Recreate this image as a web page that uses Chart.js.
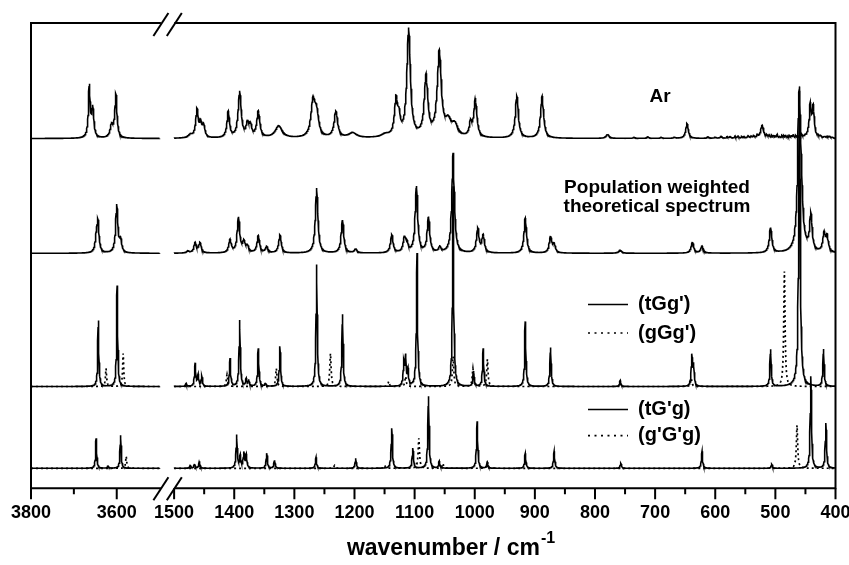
<!DOCTYPE html>
<html>
<head>
<meta charset="utf-8">
<script src="https://cdn.jsdelivr.net/npm/chart.js@4.4.1/dist/chart.umd.min.js"></script>
<style>
  html, body { margin: 0; padding: 0; background: #fff; }
  canvas { display: block; }
</style>
</head>
<body>
<canvas id="chart" width="849" height="565"></canvas>
<script>
// Eje x partido: 3800-3500 y 1500-400 cm-1
const SEGMENTS = [[3800, 3500], [1500, 400]];
const MAJOR_TICKS = [3800, 3600, 1500, 1400, 1300, 1200, 1100, 1000, 900, 800, 700, 600, 500, 400];
const MINOR_TICKS = [3700, 1450, 1350, 1250, 1150, 1050, 950, 850, 750, 650, 550, 450];

const SERIES_LABELS = ['Ar', 'Population weighted theoretical spectrum', "(tGg')", "(gGg')", "(tG'g)", "(g'G'g)"];
const SERIES_OFFSETS = [349.8, 235, 101.8, 101.8, 20, 20];
const SERIES_HWHM = [3.5, 2.5, 1.2, 1.3, 1.2, 1.3];

// picos: [posicion cm-1, altura, semi-anchura opcional]
const AR_PEAKS = [
  [3664, 51, 2.5], [3656, 29, 3], [3612, 12, 4], [3602, 43, 3],
  [1473, 3, 4], [1462, 28, 2.5], [1456, 13, 2], [1451, 12, 2.5],
  [1410, 26, 2.5], [1391, 46, 3], [1378, 13, 2.5], [1373, 11, 2.5], [1360, 26, 3],
  [1326, 12, 7], [1269, 35, 4], [1263, 22, 4], [1231, 26, 3.5], [1203, 5, 8], [1149, 3, 8],
  [1131, 36, 3], [1126, 16, 2.5], [1110, 108, 3.5], [1081, 60, 3.5], [1059, 84, 4], [1044, 14, 6], [1033, 11, 6],
  [1007, 13, 2.5], [999, 38, 3], [930, 42, 3], [888, 42, 3], [779, 4, 3],
  [735, 1, 2], [712, 1.5, 2], [690, 1, 2], [668, 1, 2],
  [647, 15, 2.5], [612, 1.5, 2], [600, 1, 2], [590, 2, 2], [580, 1.5, 1.2], [575, 1.5, 2], [567, 2, 1],
  [562, 2, 1.5], [556, 1.5, 1], [552, 1.5, 1.5], [545, 2.5, 1.5], [540, 2, 1], [536, 2, 1.5],
  [530, 3, 1], [522, 13, 3], [514, 2, 1], [510, 3, 1.2], [506, 2, 0.8], [503, 2.5, 1], [500, 2, 0.8],
  [497, 3.5, 1], [493, 2, 0.8], [489, 2.5, 1], [486, 2, 0.8], [483, 3, 1], [479, 2, 0.8], [476, 2, 1],
  [473, 2.5, 0.8], [470, 3.5, 1], [466, 2, 0.8], [463, 2.5, 1], [459, 2, 0.8], [456, 3, 1],
  [453, 1.5, 0.8], [450, 2, 1], [446, 2, 1], [442, 32, 2], [437, 30, 2], [429, 1.5, 1],
  [425, 2, 1.5], [418, 1.5, 1.5], [414, 1.5, 1], [410, 2, 1.5], [405, 1, 1]
];
const POP_PEAKS = [
  [3648, 10, 3], [3644, 31, 3], [3600, 48, 3], [3591, 12, 3],
  [1477, 2], [1465, 10], [1457, 10], [1407, 13], [1393, 35], [1384, 10], [1378, 6], [1360, 17],
  [1346, 6], [1324, 18], [1263, 65], [1220, 33], [1198, 4], [1138, 18], [1117, 14], [1113, 8],
  [1097, 66], [1077, 35], [1058, 5], [1036, 100], [995, 24], [986, 17], [916, 35], [874, 16],
  [868, 8], [758, 3, 3], [638, 11], [622, 7], [508, 25], [461, 120, 2.5], [458, 70, 3.5],
  [441, 36], [419, 18], [414, 15]
];
const TGG_PEAKS = [
  [3643, 66, 1.5], [3599, 101, 1.5],
  [1480, 3], [1465, 23], [1460, 11], [1454, 10], [1407, 28], [1391, 66], [1380, 7], [1376, 6],
  [1360, 38], [1348, 3], [1324, 40], [1263, 122], [1220, 72], [1118, 22], [1115, 28], [1111, 15],
  [1096, 133], [1036, 200], [1002, 15], [986, 38], [916, 65], [874, 39], [758, 6], [639, 30],
  [636, 20], [508, 37], [460, 300, 1.5], [420, 37]
];
const GGG_PEAKS = [
  [3625, 18, 1.5], [3585, 33, 1.5],
  [1412, 12], [1330, 18], [1240, 33], [1143, 5], [1115, 10], [1036, 30], [1003, 18], [979, 27],
  [640, 8], [485, 115]
];
const TGPG_PEAKS = [
  [3648, 30, 1.5], [3620, 2, 2], [3591, 33, 1.5],
  [1473, 3], [1466, 4], [1458, 7], [1396, 33], [1390, 12], [1384, 15], [1380, 13], [1346, 15],
  [1333, 8], [1264, 11], [1198, 10], [1138, 40], [1103, 20], [1077, 72], [1059, 7], [996, 47],
  [979, 6], [916, 15], [868, 17], [757, 5], [622, 17], [506, 4], [441, 92], [416, 45]
];
const GPGPG_PEAKS = [
  [3578, 12, 1.5],
  [1233, 3], [1150, 3], [1093, 30], [1053, 5], [979, 6], [464, 43]
];
const SERIES_PEAKS = [AR_PEAKS, POP_PEAKS, TGG_PEAKS, GGG_PEAKS, TGPG_PEAKS, GPGPG_PEAKS];

// escala del eje: unidades por cm-1 en cada tramo
const LEFT_SCALE = 0.4285;
const RIGHT_SCALE = 0.601;
const GAP = 14.5;

function toU(w) {
  if (w >= 2500) return (SEGMENTS[0][0] - w) * LEFT_SCALE;
  return (SEGMENTS[0][0] - SEGMENTS[0][1]) * LEFT_SCALE + GAP + (SEGMENTS[1][0] - w) * RIGHT_SCALE;
}

function intensity(peaks, hwhm, w) {
  let s = 0;
  peaks.forEach(p => {
    const g = p[2] || hwhm;
    const d = (w - p[0]) / g;
    s += p[1] / (1 + d * d);
  });
  return s;
}

function buildSeries(i) {
  const peaks = SERIES_PEAKS[i];
  const pts = [];
  SEGMENTS.forEach((seg, si) => {
    const [hi, lo] = seg;
    const ws = [];
    for (let w = hi; w >= lo - 1e-9; w -= 0.5) ws.push(w);
    peaks.forEach(p => { if (p[0] <= hi && p[0] >= lo) ws.push(p[0]); });
    ws.sort((a, b) => b - a);
    ws.forEach(w => pts.push({ x: toU(w), y: SERIES_OFFSETS[i] + intensity(peaks, SERIES_HWHM[i], w) }));
    if (si < SEGMENTS.length - 1) {
      pts.push({ x: (toU(lo) + toU(SEGMENTS[si + 1][0])) / 2, y: null });
    }
  });
  return pts;
}

const DOTTED = [false, false, false, true, false, true];
const FONT = "'Liberation Sans', Arial, Helvetica, sans-serif";

const datasets = SERIES_LABELS.map((label, i) => ({
  label: label,
  data: buildSeries(i),
  borderColor: '#000',
  borderWidth: DOTTED[i] ? 1.7 : 1.6,
  borderDash: DOTTED[i] ? [2, 3] : [],
  pointRadius: 0,
  tension: 0,
  spanGaps: false,
  fill: false
}));

// marco partido, marcas y rotura //
const framePlugin = {
  id: 'frame',
  afterDatasetsDraw(chart) {
    const { ctx, chartArea: a, scales: { x } } = chart;
    const gL = x.getPixelForValue(toU(SEGMENTS[0][1])) + 1.3;
    const gR = x.getPixelForValue(toU(SEGMENTS[1][0])) + 0.2;
    ctx.save();
    ctx.strokeStyle = '#000';
    ctx.lineWidth = 2;
    ctx.beginPath();
    ctx.moveTo(a.left, a.top - 1); ctx.lineTo(a.left, a.bottom + 1);
    ctx.moveTo(a.right, a.top - 1); ctx.lineTo(a.right, a.bottom + 1);
    [a.top, a.bottom].forEach(y => {
      ctx.moveTo(a.left - 1, y); ctx.lineTo(gL, y);
      ctx.moveTo(gR, y); ctx.lineTo(a.right + 1, y);
    });
    ctx.stroke();
    [a.top + 1.5, a.bottom + 0.4].forEach(y => {
      [gL, gR].forEach(cx => {
        ctx.beginPath();
        ctx.moveTo(cx - 7.5, y + 11.5);
        ctx.lineTo(cx + 7.5, y - 11.5);
        ctx.stroke();
      });
    });
    ctx.beginPath();
    MAJOR_TICKS.forEach(w => {
      const px = x.getPixelForValue(toU(w));
      ctx.moveTo(px, a.bottom); ctx.lineTo(px, a.bottom + 11);
    });
    MINOR_TICKS.forEach(w => {
      const px = x.getPixelForValue(toU(w));
      ctx.moveTo(px, a.bottom); ctx.lineTo(px, a.bottom + 6);
    });
    ctx.stroke();
    ctx.restore();
  }
};

// textos: etiquetas de espectros, leyenda y titulo del eje
const textPlugin = {
  id: 'texts',
  afterDraw(chart) {
    const ctx = chart.ctx;
    ctx.save();
    ctx.fillStyle = '#000';
    ctx.textBaseline = 'alphabetic';
    ctx.textAlign = 'center';
    ctx.font = 'bold 19px ' + FONT;
    ctx.fillText(SERIES_LABELS[0], 660, 101.7);
    const popWords = SERIES_LABELS[1].split(' ');
    ctx.fillText(popWords.slice(0, 2).join(' '), 657, 193.3);
    ctx.fillText(popWords.slice(2).join(' '), 657, 212);

    // leyenda
    const legendRows = [[2, 304.5], [3, 333], [4, 409.5], [5, 435.7]];
    legendRows.forEach(([i, y]) => {
      ctx.strokeStyle = '#000';
      ctx.lineWidth = 1.7;
      ctx.setLineDash(DOTTED[i] ? [2, 4.5] : []);
      ctx.beginPath();
      ctx.moveTo(588, y); ctx.lineTo(628, y);
      ctx.stroke();
      ctx.setLineDash([]);
      ctx.textAlign = 'left';
      ctx.textBaseline = 'middle';
      ctx.font = 'bold 20px ' + FONT;
      ctx.fillText(SERIES_LABELS[i], 638, y);
    });

    // titulo del eje x con superindice
    ctx.textBaseline = 'alphabetic';
    ctx.textAlign = 'left';
    ctx.font = 'bold 23px ' + FONT;
    const main = 'wavenumber / cm';
    const mw = ctx.measureText(main).width;
    ctx.font = 'bold 16px ' + FONT;
    const sup = '-1';
    const sw = ctx.measureText(sup).width;
    const x0 = 451 - (mw + sw + 1) / 2;
    ctx.font = 'bold 23px ' + FONT;
    ctx.fillText(main, x0, 555);
    ctx.font = 'bold 16px ' + FONT;
    ctx.fillText(sup, x0 + mw + 1, 543);
    ctx.restore();
  }
};

new Chart(document.getElementById('chart'), {
  type: 'line',
  data: { datasets: datasets },
  options: {
    responsive: false,
    animation: false,
    devicePixelRatio: 1,
    events: [],
    layout: { padding: { left: 31, right: 13.5, top: 23, bottom: 0 } },
    plugins: { legend: { display: false }, tooltip: { enabled: false } },
    scales: {
      x: {
        type: 'linear',
        min: 0,
        max: toU(SEGMENTS[1][1]),
        grid: { display: false, drawTicks: false },
        border: { display: false },
        afterBuildTicks: scale => {
          scale.ticks = MAJOR_TICKS.map(w => ({ value: toU(w) }));
        },
        afterFit: scale => {
          scale.height = 76.7;
          scale.paddingLeft = 0;
          scale.paddingRight = 0;
        },
        ticks: {
          autoSkip: false,
          maxRotation: 0,
          minRotation: 0,
          padding: 14,
          color: '#000',
          font: { family: FONT, size: 18, weight: 'bold' },
          callback: (value, index) => String(MAJOR_TICKS[index])
        }
      },
      y: {
        display: false,
        min: 0,
        max: 465.3
      }
    }
  },
  plugins: [framePlugin, textPlugin]
});
</script>
</body>
</html>
